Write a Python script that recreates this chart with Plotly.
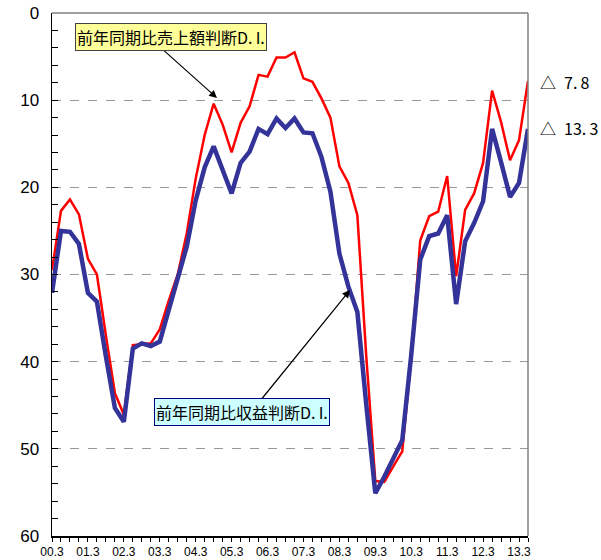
import plotly.graph_objects as go

categories = [
    "00.3", "00.6", "00.9", "00.12", "01.3", "01.6", "01.9", "01.12",
    "02.3", "02.6", "02.9", "02.12", "03.3", "03.6", "03.9", "03.12",
    "04.3", "04.6", "04.9", "04.12", "05.3", "05.6", "05.9", "05.12",
    "06.3", "06.6", "06.9", "06.12", "07.3", "07.6", "07.9", "07.12",
    "08.3", "08.6", "08.9", "08.12", "09.3", "09.6", "09.9", "09.12",
    "10.3", "10.6", "10.9", "10.12", "11.3", "11.6", "11.9", "11.12",
    "12.3", "12.6", "12.9", "12.12", "13.3", "13.6",
]

sales_di = [
    29.5, 22.7, 21.4, 23.1, 28.2, 30.0, 37.0, 43.6,
    46.1, 38.1, 38.0, 37.9, 36.3, 33.0, 30.0, 25.3,
    19.0, 14.0, 10.4, 12.8, 16.0, 12.6, 10.7, 7.1,
    7.3, 5.1, 5.1, 4.5, 7.5, 7.9, 9.8, 12.0,
    17.6, 19.5, 23.2, 39.5, 53.7, 53.8, 52.0, 50.3,
    39.5, 26.1, 23.3, 22.8, 18.7, 30.2, 22.6, 20.7,
    17.2, 8.9, 12.5, 16.9, 14.6, 7.8,
]

profit_di = [
    32.1, 25.0, 25.1, 26.5, 32.1, 33.1, 39.4, 45.3,
    46.9, 38.5, 37.9, 38.2, 37.7, 34.0, 30.5, 26.8,
    21.5, 17.7, 15.3, 18.0, 20.7, 17.2, 15.9, 13.3,
    13.9, 12.1, 13.2, 12.1, 13.7, 13.8, 16.5, 20.5,
    27.6, 31.4, 34.3, 45.0, 55.1, 53.2, 51.0, 49.0,
    39.2, 28.3, 25.6, 25.3, 23.2, 33.4, 26.2, 24.1,
    21.6, 13.3, 17.1, 21.1, 19.5, 13.3,
]

y_ticks = [0, 10, 20, 30, 40, 50, 60]
x_ticktext = [c if c.endswith(".3") else "" for c in categories]

sales_label = "前年同期比売上額判断D.\u2009I."
profit_label = "前年同期比収益判断D.\u2009I."
last_sales_text = "△\u20027.\u20098"
last_profit_text = "△\u200213.\u20093"

W, H = 601, 560
L, R, T, B = 52, 528, 13, 536


def px(xp):
    return (xp - L) / (R - L)


def py(yp):
    return (B - yp) / (B - T)


fig = go.Figure()
fig.add_trace(go.Scatter(x=categories, y=sales_di, mode="lines",
                         line=dict(color="#FF0000", width=2.5),
                         showlegend=False, hoverinfo="skip"))
fig.add_trace(go.Scatter(x=categories, y=profit_di, mode="lines",
                         line=dict(color="#333399", width=4.5),
                         showlegend=False, hoverinfo="skip"))

fig.update_layout(
    width=W, height=H,
    margin=dict(l=L, r=W - R, t=T, b=H - B, autoexpand=False),
    paper_bgcolor="white", plot_bgcolor="white",
    font=dict(family="Liberation Sans, Arial, sans-serif", color="black"),
    xaxis=dict(
        type="category", range=[0, len(categories) - 1],
        tickmode="array", tickvals=categories, ticktext=x_ticktext,
        ticks="outside", ticklen=4, tickcolor="black", tickwidth=1,
        showline=True, linecolor="black", linewidth=1.5,
        showgrid=False, zeroline=False, automargin=False,
        ticklabeloverflow="allow",
        tickfont=dict(size=12, family="Liberation Sans, Arial, sans-serif"),
        tickangle=0,
    ),
    yaxis=dict(
        range=[60, 0], tickmode="array", tickvals=y_ticks,
        ticks="inside", ticklen=6, tickcolor="black",
        showline=True, linecolor="black", linewidth=1.5,
        showgrid=True, gridcolor="#999999", griddash="dash", gridwidth=1,
        zeroline=False, automargin=False, ticklabeloverflow="allow",
        tickfont=dict(size=17, family="Liberation Sans, Arial, sans-serif"),
        ticklabelstandoff=8,
        minor=dict(dtick=2, ticks="inside", ticklen=6, tickcolor="black",
                   showgrid=False),
    ),
)

# top and right border
fig.add_shape(type="line", xref="paper", yref="paper", x0=0, x1=1, y0=1, y1=1,
              line=dict(color="#808080", width=1.5))
fig.add_shape(type="line", xref="paper", yref="paper", x0=1, x1=1, y0=0, y1=1,
              line=dict(color="#808080", width=1.5))

cjk = "Noto Sans CJK JP"

# arrows
fig.add_annotation(xref="paper", yref="paper", x=px(217), y=py(98),
                   axref="pixel", ayref="pixel", ax=160 - 217, ay=47 - 98,
                   text="", showarrow=True, arrowhead=2, arrowsize=1.3,
                   arrowwidth=1.2, arrowcolor="black")
fig.add_annotation(xref="paper", yref="paper", x=px(350), y=py(290),
                   axref="pixel", ayref="pixel", ax=260 - 350, ay=401 - 290,
                   text="", showarrow=True, arrowhead=2, arrowsize=1.3,
                   arrowwidth=1.2, arrowcolor="black")

# label boxes
fig.add_annotation(xref="paper", yref="paper", x=px(170.5), y=py(36.5),
                   text=sales_label, showarrow=False,
                   font=dict(family=cjk, size=16, color="black"),
                   bgcolor="#FFFF99", bordercolor="#404040", borderwidth=1,
                   borderpad=1, xanchor="center", yanchor="middle")
fig.add_annotation(xref="paper", yref="paper", x=px(242), y=py(411.7),
                   text=profit_label, showarrow=False,
                   font=dict(family=cjk, size=16, color="black"),
                   bgcolor="#CCFFFF", bordercolor="#000080", borderwidth=1,
                   borderpad=1, xanchor="center", yanchor="middle")

# last values
fig.add_annotation(xref="paper", yref="paper", x=px(538), y=py(82),
                   text=last_sales_text, showarrow=False,
                   font=dict(family=cjk, size=16, color="black"),
                   xanchor="left", yanchor="middle")
fig.add_annotation(xref="paper", yref="paper", x=px(538), y=py(128),
                   text=last_profit_text, showarrow=False,
                   font=dict(family=cjk, size=16, color="black"),
                   xanchor="left", yanchor="middle")

fig.write_html(
    "out.html",
    config={"displayModeBar": False, "staticPlot": True},
    post_script="document.body.style.margin='0';document.body.style.padding='0';",
)
